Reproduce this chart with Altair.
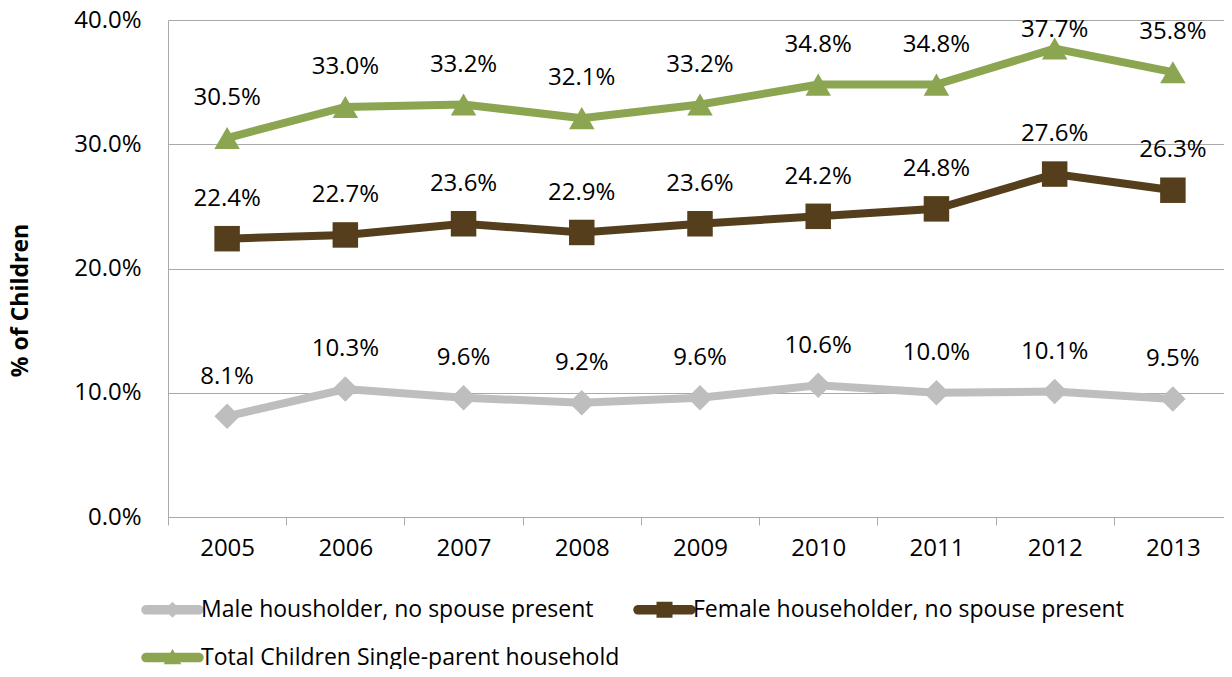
import altair as alt
import pandas as pd

years = ["2005", "2006", "2007", "2008", "2009", "2010", "2011", "2012", "2013"]
series_names = [
    "Male housholder, no spouse present",
    "Female householder, no spouse present",
    "Total Children Single-parent household",
]
male = [8.1, 10.3, 9.6, 9.2, 9.6, 10.6, 10.0, 10.1, 9.5]
female = [22.4, 22.7, 23.6, 22.9, 23.6, 24.2, 24.8, 27.6, 26.3]
total = [30.5, 33.0, 33.2, 32.1, 33.2, 34.8, 34.8, 37.7, 35.8]

colors = ["#BEBEBE", "#553E1B", "#8BA551"]
shapes = ["diamond", "square", "triangle-up"]
sizes = [650, 650, 760]
legend_paths = [
    "M-3.3,-0.6 L3.3,-0.6 A0.6,0.6 0 0 1 3.3,0.6 L-3.3,0.6 A0.6,0.6 0 0 1 -3.3,-0.6 Z M0,-1 L1,0 L0,1 L-1,0 Z",
    "M-3.3,-0.6 L3.3,-0.6 A0.6,0.6 0 0 1 3.3,0.6 L-3.3,0.6 A0.6,0.6 0 0 1 -3.3,-0.6 Z M-1,-1 L1,-1 L1,1 L-1,1 Z",
    "M-3.3,-0.6 L3.3,-0.6 A0.6,0.6 0 0 1 3.3,0.6 L-3.3,0.6 A0.6,0.6 0 0 1 -3.3,-0.6 Z M0,-1.05 L1.1,0.85 L-1.1,0.85 Z",
]

rows = []
for name, vals in zip(series_names, [male, female, total]):
    for y, v in zip(years, vals):
        rows.append({"year": y, "series": name, "value": v / 100.0})
df = pd.DataFrame(rows)

FONT = "Open Sans"
GRID = "#A9A9A9"
FS = 24

x_enc = alt.X(
    "year:O",
    title=None,
    scale=alt.Scale(paddingInner=0, paddingOuter=0, range=[0, 1064]),
    axis=alt.Axis(
        labelAngle=0,
        labelFontSize=FS,
        labelFont=FONT,
        labelColor="black",
        labelPadding=11,
        tickBand="extent",
        tickSize=8,
        tickColor=GRID,
        domainColor=GRID,
        grid=False,
    ),
)
y_scale = alt.Scale(domain=[0, 0.4], nice=False)
y_enc = alt.Y(
    "value:Q",
    scale=y_scale,
    title="% of Children",
    axis=alt.Axis(
        format=".1%",
        values=[0, 0.1, 0.2, 0.3, 0.4],
        labelFontSize=FS,
        labelFont=FONT,
        labelColor="black",
        labelPadding=27,
        ticks=False,
        domainColor=GRID,
        gridColor=GRID,
        grid=True,
        titleFont=FONT,
        titleFontSize=23,
        titleFontWeight="bold",
        titleColor="black",
        titleX=-141,
        titleY=280,
        titleAngle=-90,
        titleAlign="center",
        titleBaseline="alphabetic",
    ),
)
color_scale = alt.Scale(domain=series_names, range=colors)

base = alt.Chart(df)

lines = base.mark_line(strokeWidth=8).encode(
    x=x_enc,
    y=y_enc,
    color=alt.Color("series:N", scale=color_scale, legend=None),
    detail="series:N",
)

points = base.mark_point(filled=True, opacity=1).encode(
    x=x_enc,
    y=y_enc,
    color=alt.Color("series:N", scale=color_scale, legend=None),
    shape=alt.Shape("series:N", scale=alt.Scale(domain=series_names, range=shapes), legend=None),
    size=alt.Size("series:N", scale=alt.Scale(domain=series_names, range=sizes), legend=None),
)

labels = base.transform_calculate(
    label_v="min(datum.value + 0.032, 0.392)"
).mark_text(fontSize=FS, font=FONT, color="black", baseline="middle").encode(
    x=x_enc,
    y=alt.Y("label_v:Q", scale=y_scale),
    text=alt.Text("value:Q", format=".1%"),
)

legend_props = dict(
    title=None,
    orient="none",
    direction="horizontal",
    legendX=-7,
    legendY=578,
    columns=2,
    columnPadding=13,
    rowPadding=24,
    symbolSize=256,
    symbolStrokeWidth=0,
    symbolOpacity=1,
    labelFontSize=23,
    labelFont=FONT,
    labelColor="black",
    labelOffset=17,
    labelLimit=800,
)

legend_layer = base.transform_filter("false").mark_point(filled=True, opacity=1).encode(
    x=x_enc,
    y=y_enc,
    color=alt.Color("series:N", scale=color_scale, legend=alt.Legend(**legend_props)),
    shape=alt.Shape(
        "series:N",
        scale=alt.Scale(domain=series_names, range=legend_paths),
        legend=alt.Legend(**legend_props),
    ),
)

chart = (
    alt.layer(lines, points, labels, legend_layer)
    .resolve_scale(color="independent", shape="independent")
    .properties(
        width=1056,
        height=497,
        autosize=alt.AutoSizeParams(type="none"),
        padding={"left": 160, "top": 12, "right": 0, "bottom": 152},
    )
    .configure_view(strokeWidth=0)
)

chart.save("out.html", embed_options={"renderer": "svg", "actions": False})
